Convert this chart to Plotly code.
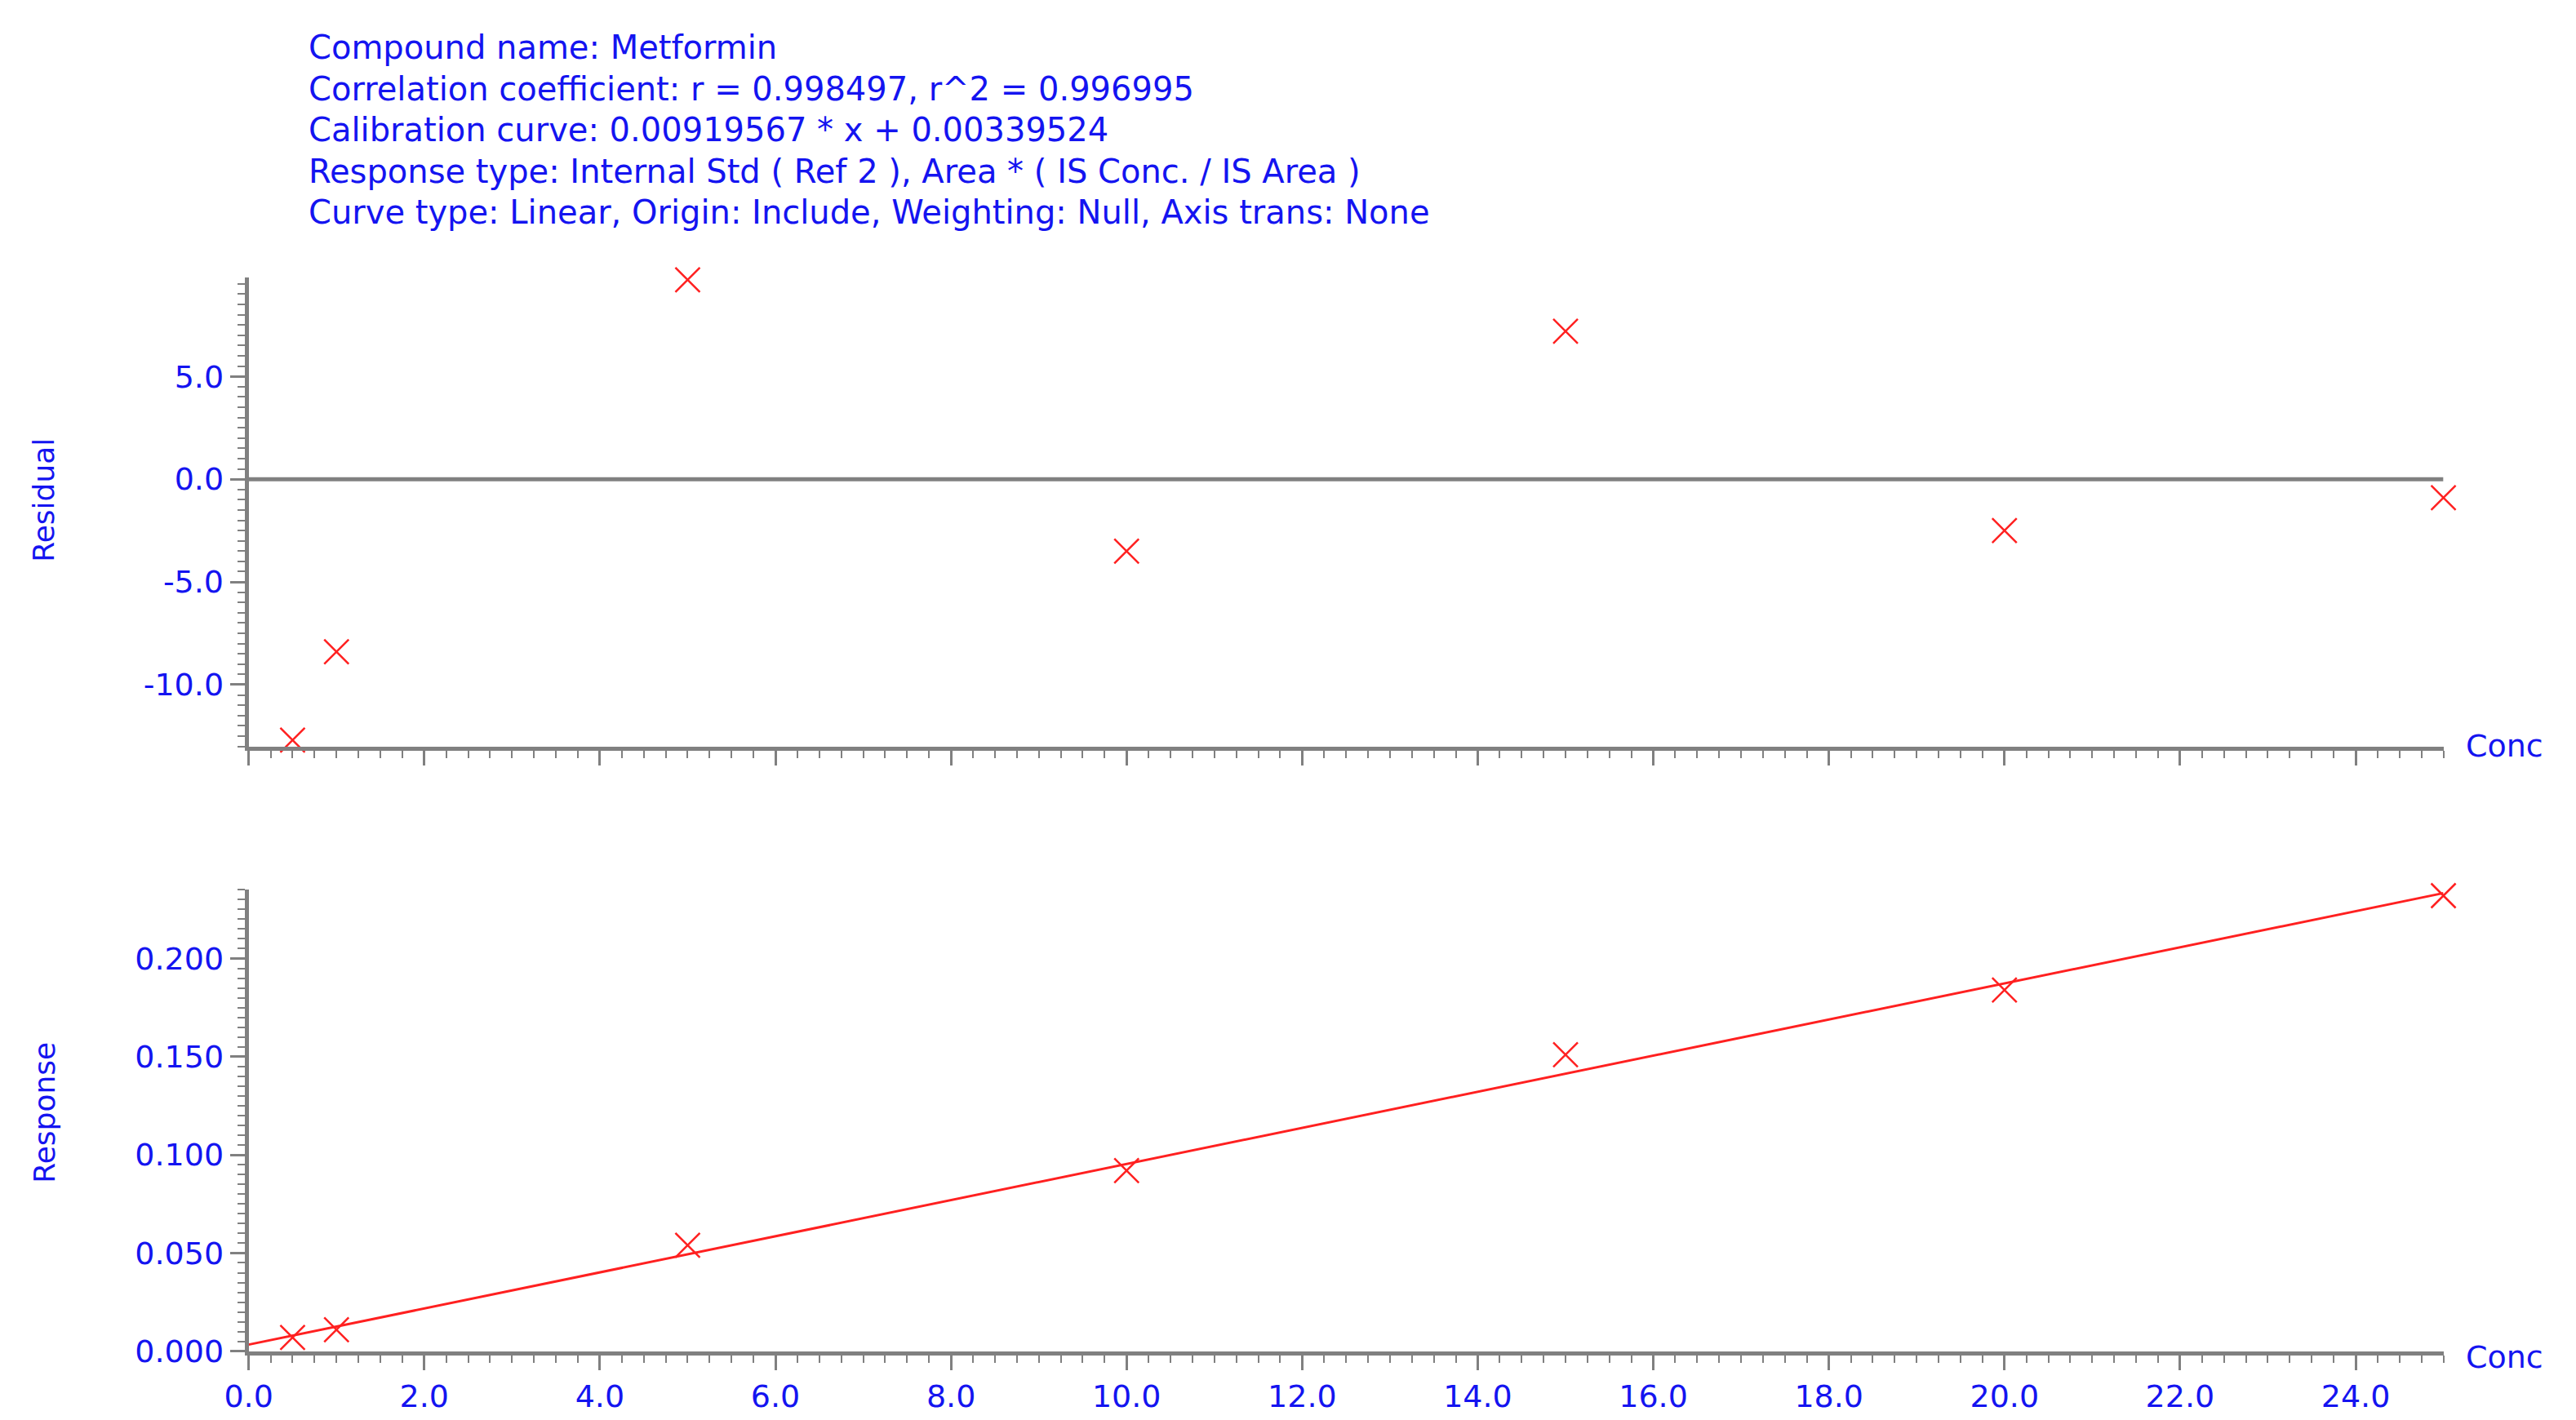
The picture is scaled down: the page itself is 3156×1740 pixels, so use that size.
import plotly.graph_objects as go

# calibration data
conc = [0.5, 1.0, 5.0, 10.0, 15.0, 20.0, 25.0]
residual = [-12.7, -8.4, 9.7, -3.5, 7.2, -2.5, -0.9]
response = [0.007, 0.011, 0.054, 0.092, 0.151, 0.184, 0.232]
slope = 0.00919567
intercept = 0.00339524
fit_x = [0.0, 25.0]
x_ticks = [0, 2, 4, 6, 8, 10, 12, 14, 16, 18, 20, 22, 24]

header = [
    "Compound name: Metformin",
    "Correlation coefficient: r = 0.998497, r^2 = 0.996995",
    "Calibration curve: 0.00919567 * x + 0.00339524",
    "Response type: Internal Std ( Ref 2 ), Area * ( IS Conc. / IS Area )",
    "Curve type: Linear, Origin: Include, Weighting: Null, Axis trans: None",
]

BLUE = "#1414f0"
GREY = "#808080"
RED = "#ff2020"
FONT = "DejaVu Sans"

fig = go.Figure()

marker = dict(symbol="x-thin", size=30, line=dict(color=RED, width=2.5), color=RED)

fig.add_trace(go.Scatter(x=conc, y=residual, mode="markers", marker=marker,
                         xaxis="x", yaxis="y", showlegend=False, cliponaxis=False))
fig.add_trace(go.Scatter(x=fit_x, y=[0, 0], mode="lines", line=dict(color=GREY, width=5),
                         xaxis="x", yaxis="y", showlegend=False))
fig.add_trace(go.Scatter(x=fit_x, y=[slope * v + intercept for v in fit_x], mode="lines",
                         line=dict(color=RED, width=3), xaxis="x2", yaxis="y2", showlegend=False))
fig.add_trace(go.Scatter(x=conc, y=response, mode="markers", marker=marker,
                         xaxis="x2", yaxis="y2", showlegend=False, cliponaxis=False))

axis_common = dict(showgrid=False, zeroline=False, showline=True, linecolor=GREY, linewidth=5,
                   ticks="outside", tickcolor=GREY, tickwidth=3, ticklen=18, automargin=False,
                   tickfont=dict(family=FONT, size=38, color=BLUE))
x_common = dict(axis_common, range=[0, 25], domain=[0.094, 0.946],
                tickvals=x_ticks, ticktext=["%.1f" % v for v in x_ticks],
                minor=dict(dtick=0.25, ticks="outside", ticklen=9, tickcolor=GREY, tickwidth=2))

fig.update_layout(
    width=3156, height=1740,
    paper_bgcolor="white", plot_bgcolor="white",
    margin=dict(l=0, r=0, t=0, b=0),
    xaxis=dict(x_common, anchor="y", showticklabels=False),
    yaxis=dict(axis_common, domain=[0.479, 0.809], range=[-13, 9.8], anchor="x",
               tickvals=[-10, -5, 0, 5], ticktext=["-10.0", "-5.0", "0.0", "5.0"],
               minor=dict(dtick=0.5, ticks="outside", ticklen=9, tickcolor=GREY, tickwidth=2)),
    xaxis2=dict(x_common, anchor="y2"),
    yaxis2=dict(axis_common, domain=[0.053, 0.378], range=[0, 0.235], anchor="x2",
                tickvals=[0, 0.05, 0.1, 0.15, 0.2],
                ticktext=["0.000", "0.050", "0.100", "0.150", "0.200"],
                minor=dict(dtick=0.005, ticks="outside", ticklen=9, tickcolor=GREY, tickwidth=2)),
)

for i, line in enumerate(header):
    fig.add_annotation(text=line, xref="paper", yref="paper", x=0.1166, y=1 - (50 + 50.5 * i) / 1740,
                       xanchor="left", yanchor="middle", showarrow=False,
                       font=dict(family=FONT, size=40, color=BLUE))

for yy in [1 - 906 / 1740, 1 - 1655 / 1740]:
    fig.add_annotation(text="Conc", xref="paper", yref="paper", x=0.954, y=yy,
                       xanchor="left", yanchor="middle", showarrow=False,
                       font=dict(family=FONT, size=38, color=BLUE))

for title, yy in [("Residual", 1 - 605 / 1740), ("Response", 1 - 1355 / 1740)]:
    fig.add_annotation(text=title, xref="paper", yref="paper", x=0.0145, y=yy,
                       textangle=-90, xanchor="center", yanchor="middle", showarrow=False,
                       font=dict(family=FONT, size=36, color=BLUE))

fig.write_html("out.html")
